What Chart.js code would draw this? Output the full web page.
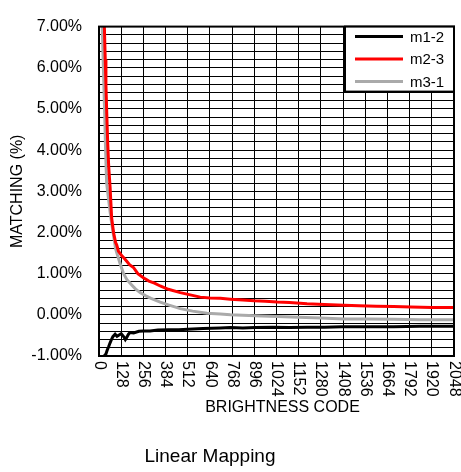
<!DOCTYPE html>
<html>
<head>
<meta charset="utf-8">
<script src="https://cdn.jsdelivr.net/npm/chart.js@4/dist/chart.umd.min.js"></script>
<style>
    html, body { margin: 0; padding: 0; background: #fff; }
    canvas { display: block; }
</style>
</head>
<body>
<canvas id="matchChart" width="461" height="472"></canvas>
<script>
const FONT = "Arial, 'Liberation Sans', sans-serif";

const SERIES_NAMES = ['m1-2', 'm2-3', 'm3-1'];
const SERIES_COLORS = ['#000000', '#ff0000', '#aaaaaa'];

// brightness code / matching %
const m12Codes  = [20, 30, 40, 48, 56, 64, 72, 80, 93, 104, 116, 128, 144, 152, 160, 170, 179, 200, 230, 256, 295, 340, 400, 460, 512, 600, 700, 758, 830, 900, 1000, 1100, 1200, 1300, 1400, 1550, 1700, 1850, 2048];
const m12Values = [-1.15, -1.0, -0.95, -0.85, -0.77, -0.68, -0.6, -0.53, -0.47, -0.52, -0.49, -0.46, -0.54, -0.6, -0.55, -0.47, -0.43, -0.44, -0.4, -0.39, -0.39, -0.37, -0.36, -0.36, -0.35, -0.33, -0.32, -0.31, -0.32, -0.31, -0.3, -0.31, -0.3, -0.3, -0.29, -0.29, -0.29, -0.28, -0.28];

const m23Codes  = [16, 24, 31, 36, 40, 44, 50, 56, 64, 73, 84, 96, 102, 112, 128, 144, 160, 176, 199, 224, 256, 288, 320, 353, 400, 469, 520, 584, 640, 700, 758, 830, 896, 960, 1028, 1100, 1200, 1300, 1413, 1500, 1600, 1700, 1800, 1920, 2048];
const m23Values = [8.5, 7.6, 7.0, 6.2, 5.6, 5.0, 4.2, 3.6, 3.1, 2.35, 2.0, 1.75, 1.7, 1.55, 1.45, 1.38, 1.3, 1.22, 1.15, 1.0, 0.9, 0.82, 0.77, 0.7, 0.62, 0.54, 0.49, 0.43, 0.41, 0.4, 0.38, 0.36, 0.34, 0.33, 0.31, 0.3, 0.27, 0.25, 0.23, 0.22, 0.21, 0.2, 0.19, 0.18, 0.18];

const m31Codes  = [12, 20, 26, 32, 38, 44, 54, 64, 74, 83, 96, 110, 121, 140, 160, 190, 210, 237, 270, 300, 353, 400, 469, 540, 623, 700, 758, 830, 900, 1028, 1150, 1280, 1413, 1550, 1700, 1850, 2048];
const m31Values = [8.0, 6.8, 5.9, 5.0, 4.0, 3.2, 2.85, 2.5, 2.2, 1.95, 1.6, 1.4, 1.25, 1.02, 0.86, 0.72, 0.63, 0.54, 0.46, 0.4, 0.31, 0.24, 0.15, 0.09, 0.04, 0.02, 0.0, -0.01, -0.02, -0.04, -0.06, -0.08, -0.1, -0.1, -0.11, -0.12, -0.12];

const xTickLabels = [0, 128, 256, 384, 512, 640, 768, 896, 1024, 1152, 1280, 1408, 1536, 1664, 1792, 1920, 2048];
const yTickLabels = [-1, 0, 1, 2, 3, 4, 5, 6, 7];
const Y_MINOR_STEP = 0.2;

const X_TITLE = 'BRIGHTNESS CODE';
const Y_TITLE = 'MATCHING (%)';
const CAPTION = 'Linear Mapping';

function toPoints(codes, values)
{
    return codes.map((c, i) => ({ x: c, y: values[i] }));
}

function yGridValues()
{
    const out = [];
    const lo = yTickLabels[0], hi = yTickLabels[yTickLabels.length - 1];
    const n = Math.round((hi - lo) / Y_MINOR_STEP);

    for (let i = 0; i <= n; i++) out.push(+(lo + i * Y_MINOR_STEP).toFixed(4));

    return out;
}

// border, rotated x labels, titles and the boxed legend
const overlayPlugin = {
    id: 'overlay',
    afterDraw(chart)
    {
        const ctx = chart.ctx;
        const area = chart.chartArea;
        const xs = chart.scales.x;

        ctx.save();

        ctx.strokeStyle = '#000';
        ctx.lineWidth = 2;
        ctx.strokeRect(area.left, area.top, area.right - area.left, area.bottom - area.top);

        ctx.fillStyle = '#000';
        ctx.font = '16px ' + FONT;
        ctx.textAlign = 'left';
        ctx.textBaseline = 'middle';

        xTickLabels.forEach(v => {
            ctx.save();
            ctx.translate(xs.getPixelForValue(v), area.bottom + 5);
            ctx.rotate(Math.PI / 2);
            ctx.fillText(String(v), 0, 0);
            ctx.restore();
        });

        ctx.textAlign = 'center';
        ctx.textBaseline = 'top';
        ctx.fillText(X_TITLE, (area.left + area.right) / 2 + 6, area.bottom + 44);

        ctx.font = '19px ' + FONT;
        ctx.fillText(CAPTION, 210, 447);

        // legend box in top right corner
        const lx = 345, ly = area.top, lw = area.right - lx, lh = 65;
        ctx.fillStyle = '#fff';
        ctx.fillRect(lx, ly, lw, lh);
        ctx.strokeStyle = '#000';
        ctx.lineWidth = 2;
        ctx.strokeRect(lx, ly, lw, lh);

        ctx.font = '15px ' + FONT;
        ctx.textAlign = 'left';
        ctx.textBaseline = 'middle';

        chart.data.datasets.forEach((ds, i) => {
            const rowY = ly + 10 + i * 22.5;
            ctx.strokeStyle = ds.borderColor;
            ctx.lineWidth = 3;
            ctx.beginPath();
            ctx.moveTo(lx + 10, rowY);
            ctx.lineTo(lx + 58, rowY);
            ctx.stroke();
            ctx.fillStyle = '#000';
            ctx.fillText(ds.label, lx + 65, rowY + 1);
        });

        ctx.restore();
    }
};

const ctx = document.getElementById('matchChart').getContext('2d');

const allCodes = [m12Codes, m23Codes, m31Codes];
const allValues = [m12Values, m23Values, m31Values];

new Chart(ctx, {
    type: 'line',
    data: {
        datasets: SERIES_NAMES.map((name, i) => ({
            label: name,
            data: toPoints(allCodes[i], allValues[i]),
            borderColor: SERIES_COLORS[i],
            backgroundColor: SERIES_COLORS[i],
            borderWidth: 3,
            pointRadius: 0,
            tension: 0,
            fill: false
        }))
    },
    options: {
        responsive: false,
        animation: false,
        layout: { padding: { top: 15, right: 7, left: 0, bottom: 0 } },
        plugins: {
            legend: { display: false },
            tooltip: { enabled: false }
        },
        scales: {
            x: {
                type: 'linear',
                min: 0,
                max: 2048,
                afterBuildTicks: scale => { scale.ticks = xTickLabels.map(v => ({ value: v })); },
                afterFit: scale => { scale.height = 116; },
                ticks: { display: false },
                grid: { color: '#000', lineWidth: 1, drawTicks: false },
                border: { display: false }
            },
            y: {
                type: 'linear',
                min: -1,
                max: 7,
                afterBuildTicks: scale => { scale.ticks = yGridValues().map(v => ({ value: v })); },
                afterFit: scale => { scale.width = 99; },
                ticks: {
                    autoSkip: false,
                    padding: 17,
                    color: '#000',
                    font: { family: FONT, size: 16 },
                    callback: v => yTickLabels.includes(Math.round(v)) && Math.abs(v - Math.round(v)) < 1e-6 ? Math.round(v).toFixed(2) + '%' : ''
                },
                title: {
                    display: true,
                    text: Y_TITLE,
                    color: '#000',
                    font: { family: FONT, size: 16 },
                    padding: { top: 8, bottom: 0 }
                },
                grid: { color: '#000', lineWidth: 1, drawTicks: false },
                border: { display: false }
            }
        }
    },
    plugins: [overlayPlugin]
});
</script>
</body>
</html>
